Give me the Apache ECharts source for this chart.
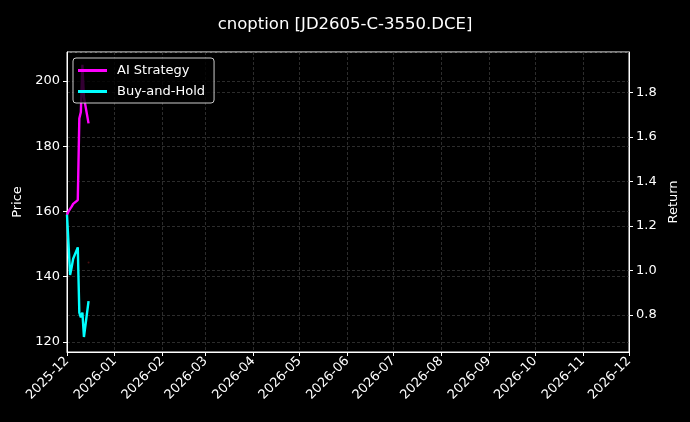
<!DOCTYPE html>
<html>
<head>
<meta charset="utf-8">
<script src="https://cdn.jsdelivr.net/npm/echarts@6/dist/echarts.min.js"></script>
<style>
  html, body { margin: 0; padding: 0; background: #000; }
  #chart { width: 690px; height: 422px; }
</style>
</head>
<body>
<div id="chart"></div>
<script>
// data
let dates = ['2025-12-01', '2025-12-02', '2025-12-03', '2025-12-04', '2025-12-05',
  '2025-12-08', '2025-12-09', '2025-12-10', '2025-12-11', '2025-12-12', '2025-12-15']
let aiStrategy = [159, 160, 160.8, 161.5, 162.3, 163.5, 188.5, 190.5, 205, 195, 187]
let buyHold = [159, 150, 140.5, 142.8, 145.5, 149, 129, 127.5, 129, 121.5, 132.5]
let signalDates = ['2025-12-15']
let signalValues = [1.036]

let title = 'cnoption [JD2605-C-3550.DCE]'
let font = 'DejaVu Sans'

function toTime(s) {
  let p = s.split('-')
  return new Date(Number(p[0]), Number(p[1]) - 1, Number(p[2])).getTime()
}

function pairs(xs, ys) {
  return xs.map((d, i) => [toTime(d), ys[i]])
}

let chart = echarts.init(document.getElementById('chart'))

let gridLine = {
  show: true,
  lineStyle: { color: '#4a4a4a', width: 0.6, type: [3, 2] }
}

let option = {
  backgroundColor: '#000',
  animation: false,
  textStyle: { fontFamily: font },
  title: {
    text: title,
    left: 'center',
    top: 11,
    textStyle: { color: '#fff', fontSize: 16.5, fontWeight: 'normal', fontFamily: font }
  },
  grid: {
    left: 67, right: 61, top: 52, bottom: 70,
    show: true,
    borderColor: '#fff',
    borderWidth: 1,
    backgroundColor: 'transparent'
  },
  legend: {
    orient: 'vertical',
    left: 73,
    top: 58,
    padding: [6, 9, 5, 5],
    itemGap: 8,
    itemWidth: 29,
    itemHeight: 3,
    icon: 'rect',
    backgroundColor: 'rgba(0,0,0,0.8)',
    borderColor: '#cccccc',
    borderWidth: 1,
    borderRadius: 3,
    textStyle: { color: '#fff', fontSize: 13, fontFamily: font, padding: [0, 0, 0, 5] },
    data: ['AI Strategy', 'Buy-and-Hold']
  },
  xAxis: {
    type: 'time',
    min: toTime('2025-12-01'),
    max: toTime('2026-12-01'),
    splitNumber: 12,
    minInterval: 28 * 24 * 3600 * 1000,
    maxInterval: 31 * 24 * 3600 * 1000,
    axisLine: { show: true, lineStyle: { color: '#fff', width: 1 } },
    axisTick: { show: true, length: 4, lineStyle: { color: '#fff' } },
    axisLabel: {
      color: '#fff',
      fontSize: 13,
      fontFamily: font,
      rotate: 45,
      margin: 7,
      hideOverlap: false,
      formatter: function (val) {
        let d = new Date(val)
        let m = d.getMonth() + 1
        return d.getFullYear() + '-' + (m < 10 ? '0' + m : m)
      }
    },
    splitLine: gridLine
  },
  yAxis: [
    {
      type: 'value',
      position: 'left',
      min: 116.9,
      max: 208.9,
      splitNumber: 5,
      name: 'Price',
      nameLocation: 'middle',
      nameGap: 42,
      nameTextStyle: { color: '#fff', fontSize: 13, fontFamily: font },
      axisLine: { show: true, lineStyle: { color: '#fff' } },
      axisTick: { show: true, length: 4, lineStyle: { color: '#fff' } },
      axisLabel: { color: '#fff', fontSize: 13, fontFamily: font, margin: 7, showMinLabel: false, showMaxLabel: false },
      splitLine: gridLine
    },
    {
      type: 'value',
      position: 'right',
      min: 0.634,
      max: 1.981,
      splitNumber: 7,
      name: 'Return',
      nameLocation: 'middle',
      nameGap: 38,
      nameTextStyle: { color: '#fff', fontSize: 13, fontFamily: font },
      axisLine: { show: true, lineStyle: { color: '#fff' } },
      axisTick: { show: true, length: 4, lineStyle: { color: '#fff' } },
      axisLabel: {
        color: '#fff', fontSize: 13, fontFamily: font, margin: 7,
        showMinLabel: false, showMaxLabel: false,
        formatter: v => v.toFixed(1)
      },
      splitLine: gridLine
    }
  ],
  series: [
    {
      name: 'AI Strategy',
      type: 'line',
      yAxisIndex: 0,
      data: pairs(dates, aiStrategy),
      showSymbol: false,
      symbol: 'none',
      color: '#ff00ff',
      lineStyle: { width: 2.4, color: '#ff00ff' }
    },
    {
      name: 'Buy-and-Hold',
      type: 'line',
      yAxisIndex: 0,
      data: pairs(dates, buyHold),
      showSymbol: false,
      symbol: 'none',
      color: '#00ffff',
      lineStyle: { width: 2.4, color: '#00ffff' }
    },
    {
      name: 'signal',
      type: 'scatter',
      yAxisIndex: 1,
      data: pairs(signalDates, signalValues),
      symbolSize: 2,
      itemStyle: { color: '#5a1414' }
    }
  ]
}

chart.setOption(option)
</script>
</body>
</html>
